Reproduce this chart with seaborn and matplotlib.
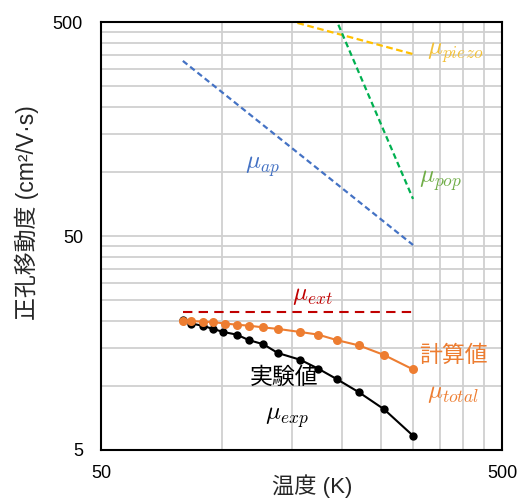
import numpy as np
import pandas as pd
import matplotlib
matplotlib.use("Agg")
import matplotlib.pyplot as plt
from matplotlib.ticker import FixedLocator, NullFormatter, FixedFormatter
import seaborn as sns

# ---- data ----
T_calc = [80, 84, 90, 95, 102, 109, 117, 127, 138, 157, 174, 194, 220, 254, 300]
mu_calc = [20.1, 20.0, 19.9, 19.8, 19.5, 19.25, 19.05, 18.7, 18.4, 17.8, 17.3, 16.3, 15.4, 13.9, 11.9]
T_exp = [80, 84, 90, 95, 101, 109, 117, 127, 138, 157, 174, 194, 220, 254, 300]
mu_exp = [20.2, 19.5, 19.0, 18.4, 17.8, 17.3, 16.3, 15.6, 14.2, 13.2, 12.0, 10.7, 9.3, 7.75, 5.83]
T_piezo = [80, 300]
mu_piezo = [690, 354]
T_pop = [180, 300]
mu_pop = [695, 74.5]
T_ap = [80, 300]
mu_ap = [329, 45.4]
T_ext = [80, 300]
mu_ext = [22.1, 22.1]

x_major = [50, 500]
x_minor = [100, 150, 200, 250, 300, 350, 400, 450]
y_major = [5, 50, 500]
y_minor = [10, 15, 20, 25, 30, 35, 40, 45, 100, 150, 200, 250, 300, 350, 400, 450]

sns.set_style("white")
plt.rcParams["font.family"] = ["Liberation Sans", "Noto Sans CJK JP", "DejaVu Sans"]
plt.rcParams["mathtext.fontset"] = "cm"

W, H = 521, 500
fig = plt.figure(figsize=(W/100, H/100), dpi=100)
ax = fig.add_axes([101/W, 1-450/H, 401/W, 428/H])
ax.set_xscale("log")
ax.set_yscale("log")
ax.set_xlim(50, 500)
ax.set_ylim(5, 500)

grid_c = "#D0D0D0"
ax.xaxis.set_major_locator(FixedLocator(x_major))
ax.xaxis.set_minor_locator(FixedLocator(x_minor))
ax.yaxis.set_major_locator(FixedLocator(y_major))
ax.yaxis.set_minor_locator(FixedLocator(y_minor))
ax.xaxis.set_major_formatter(FixedFormatter([str(v) for v in x_major]))
ax.yaxis.set_major_formatter(FixedFormatter([str(v) for v in y_major]))
ax.xaxis.set_minor_formatter(NullFormatter())
ax.yaxis.set_minor_formatter(NullFormatter())
ax.grid(True, which="both", color=grid_c, lw=1.3, zorder=0)
ax.set_axisbelow(True)
ax.tick_params(which="major", length=0, labelsize=13, colors="black")
ax.tick_params(axis="y", which="major", pad=13)
ax.tick_params(axis="x", which="major", pad=11)
ax.tick_params(which="minor", direction="in", length=4, width=1, color="black")
for s in ax.spines.values():
    s.set_color("black")
    s.set_linewidth(1.5)
    s.set_visible(True)

def dline(x, y, color, dashes, lw=1.6):
    df = pd.DataFrame({"T": x, "mu": y})
    sns.lineplot(data=df, x="T", y="mu", ax=ax, color=color, lw=lw)
    line = ax.lines[-1]
    line.set_dashes(dashes)
    line.set_dash_capstyle("butt")
    return line

dline(T_piezo, mu_piezo, "#FFC000", (3, 1.6))
dline(T_pop, mu_pop, "#00B050", (2.6, 1.6))
dline(T_ap, mu_ap, "#4472C4", (2.6, 1.6))
dline(T_ext, mu_ext, "#C00000", (4.5, 3), lw=1.5)

df_exp = pd.DataFrame({"T": T_exp, "mu": mu_exp})
df_calc = pd.DataFrame({"T": T_calc, "mu": mu_calc})
sns.lineplot(data=df_exp, x="T", y="mu", ax=ax, color="black", lw=1.5,
             marker="o", markersize=6, markeredgewidth=0)
sns.lineplot(data=df_calc, x="T", y="mu", ax=ax, color="#ED7D31", lw=1.5,
             marker="o", markersize=6.5, markeredgewidth=0)

ax.set_xlabel("")
ax.set_ylabel("")
fig.text(312/W, 1-486/H, "温度 (K)", fontsize=16, ha="center", va="center")
fig.text(27/W, 1-213/H, "正孔移動度 (cm²/V·s)", fontsize=16.5, ha="center", va="center",
         rotation=90)

fs = 18
ax.text(325, 358, r"$\mu_{piezo}$", color="#F2C037", fontsize=fs, ha="left", va="center")
ax.text(310, 91, r"$\mu_{pop}$", color="#70AD47", fontsize=fs, ha="left", va="center")
ax.text(114, 105, r"$\mu_{ap}$", color="#4472C4", fontsize=fs, ha="left", va="center")
ax.text(150, 26.4, r"$\mu_{ext}$", color="#C00000", fontsize=fs, ha="left", va="center")
ax.text(310, 13.8, "計算値", color="#ED7D31", fontsize=16.5, ha="left", va="center")
ax.text(325, 9.2, r"$\mu_{total}$", color="#ED7D31", fontsize=fs, ha="left", va="center")
ax.text(143, 10.9, "実験値", color="black", fontsize=16.5, ha="center", va="center")
ax.text(145, 7.08, r"$\mu_{exp}$", color="black", fontsize=fs, ha="center", va="center")

fig.savefig("out.png", dpi=100)
